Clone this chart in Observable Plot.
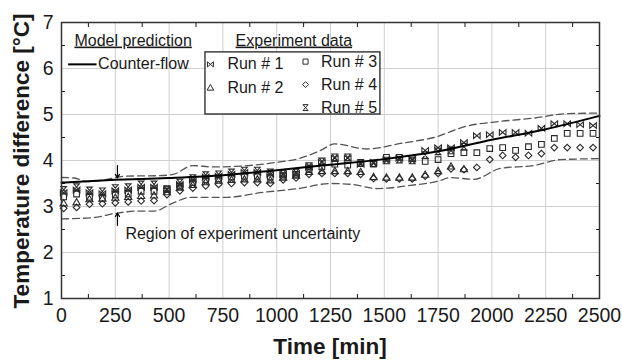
<!DOCTYPE html>
<html><head><meta charset="utf-8">
<script src="https://cdn.jsdelivr.net/npm/d3@7"></script>
<script src="https://cdn.jsdelivr.net/npm/@observablehq/plot@0.6"></script>
<style>
body{margin:0;background:#fff}
svg{font-family:"Liberation Sans",Arial,sans-serif}
</style>
</head><body><div id="chart"></div>
<script>
// ---- data ----
const times = [10,70,130,190,250,310,370,430,490,550,610,670,730,790,850,910,970,1030,1090,1150,1210,1270,1330,1390,1450,1510,1570,1630,1690,1750,1810,1870,1930,1990,2050,2110,2170,2230,2290,2350,2410,2470];
const run1 = [3.30,3.36,3.30,3.28,3.34,3.36,3.42,3.42,3.36,3.48,3.58,3.64,3.66,3.70,3.74,3.74,3.70,
              3.70,3.72,3.86,3.96,4.05,4.05,3.92,3.96,4.02,4.05,4.03,4.22,4.28,4.28,4.39,
              4.54,4.56,4.61,4.61,4.59,4.70,4.80,4.80,4.78,4.76];
const run2 = [3.06,3.08,3.15,3.16,3.18,3.20,3.22,3.23,3.30,3.40,3.46,3.52,3.55,3.57,3.58,3.58,3.56,
              3.62,3.66,3.74,3.76,3.76,3.76,3.74,3.63,3.62,3.62,3.62,3.68,3.76,3.86,3.80];
const run3 = [3.21,3.27,3.20,3.18,3.25,3.27,3.33,3.33,3.38,3.44,3.52,3.58,3.60,3.64,3.66,3.66,3.64,
              3.66,3.70,3.80,3.86,3.92,3.90,3.93,3.92,4.07,4.07,4.04,3.98,4.02,4.15,4.17,
              4.17,4.26,4.28,4.22,4.30,4.35,4.48,4.59,4.59,4.59];
const run4 = [2.96,2.98,3.05,3.06,3.08,3.10,3.12,3.13,3.26,3.34,3.40,3.45,3.48,3.50,3.52,3.52,3.50,
              3.58,3.62,3.70,3.72,3.72,3.72,3.70,3.61,3.60,3.60,3.60,3.66,3.72,3.82,3.80,
              3.85,4.02,4.11,4.07,4.11,4.15,4.28,4.28,4.28,4.28];
const run5 = [3.36,3.42,3.35,3.33,3.40,3.42,3.48,3.48,3.38,3.52,3.62,3.68,3.70,3.74,3.78,3.78,3.74,
              3.72,3.74,3.88,3.98,4.07,4.07,3.95,3.94,4.00,4.02,4.00,4.12,4.20,4.22,4.30];

const modelT = [0,250,500,750,1000,1250,1500,1750,2000,2250,2500];
const modelV = [3.52,3.58,3.62,3.68,3.79,3.91,4.03,4.20,4.45,4.68,4.97];

const upperT = [0,60,120,200,300,450,520,610,700,800,1000,1110,1204,1270,1420,1575,1730,1886,2040,2193,2351,2500];
const upperV = [3.63,3.62,3.54,3.58,3.66,3.67,3.70,3.89,3.86,3.87,3.96,4.05,4.22,4.36,4.25,4.37,4.50,4.75,4.85,4.92,5.02,5.03];
const lowerT = [0,150,250,350,430,520,600,770,925,1100,1250,1350,1468,1622,1750,1808,1916,2040,2193,2320,2500];
const lowerV = [2.73,2.76,2.85,2.90,2.90,3.08,3.20,3.20,3.30,3.39,3.50,3.48,3.39,3.46,3.55,3.63,3.59,3.83,3.89,4.02,4.04];

const xTicks = [0,250,500,750,1000,1250,1500,1750,2000,2250,2500];
const yTicks = [1,2,3,4,5,6,7];
const xMinor = [125,375,625,875,1125,1375,1625,1875,2125,2375];
const yMinor = [1.5,2.5,3.5,4.5,5.5,6.5];
const runLabels = ["Run # 1","Run # 2","Run # 3","Run # 4","Run # 5"];

// ---- symbols ----
const bowtie = {draw(ctx, size){const r=Math.sqrt(size)*0.62; ctx.moveTo(-r,-r*0.85); ctx.lineTo(-r,r*0.85); ctx.lineTo(r,-r*0.85); ctx.lineTo(r,r*0.85); ctx.closePath();}};
const hourglass = {draw(ctx, size){const r=Math.sqrt(size)*0.62; ctx.moveTo(-r*0.85,-r); ctx.lineTo(r*0.85,-r); ctx.lineTo(-r*0.85,r); ctx.lineTo(r*0.85,r); ctx.closePath();}};

const pts = (vals) => vals.map((v,i)=>({t:times[i], v}));
const zipTV = (T,V) => T.map((t,i)=>({t, v:V[i]}));

const ink = "#2a2a2a";
const symR = {bowtie:3.0, hourglass:3.0, triangle:2.7, square:3.2, diamond2:3.0};
const dotOpts = (sym, key) => ({x:"t", y:"v", symbol:sym, r:symR[key], stroke:ink, strokeWidth:1.1, fill:"none"});

// legend placement (data units)
const legendRows = [
  {t:692, tt:771, v:6.09, sym:bowtie, key:"bowtie", label:runLabels[0]},
  {t:692, tt:771, v:5.57, sym:"triangle", key:"triangle", label:runLabels[1]},
  {t:1134, tt:1206, v:6.15, sym:"square", key:"square", label:runLabels[2]},
  {t:1134, tt:1206, v:5.65, sym:"diamond2", key:"diamond2", label:runLabels[3]},
  {t:1134, tt:1206, v:5.15, sym:hourglass, key:"hourglass", label:runLabels[4]}
];

const marks = [
  Plot.gridX(xTicks, {stroke:"#d0d0d0", strokeOpacity:1}),
  Plot.gridY(yTicks, {stroke:"#d0d0d0", strokeOpacity:1}),
  Plot.axisX(xTicks, {tickSize:0, tickPadding:10, fontSize:19.5, tickFormat:d3.format("d"), label:null}),
  Plot.axisY(yTicks, {tickSize:0, tickPadding:8, fontSize:19.5, tickFormat:d3.format("d"), label:null}),
  Plot.axisX(xMinor, {anchor:"bottom", tickSize:-4, text:null, label:null}),
  Plot.axisX(xMinor, {anchor:"top", tickSize:-4, text:null, label:null}),
  Plot.axisY(yMinor, {anchor:"left", tickSize:-4, text:null, label:null}),
  Plot.axisY(yMinor, {anchor:"right", tickSize:-4, text:null, label:null}),
  Plot.line(zipTV(upperT,upperV), {x:"t", y:"v", stroke:"#555", strokeWidth:1.3, strokeDasharray:"7,4", curve:"monotone-x"}),
  Plot.line(zipTV(lowerT,lowerV), {x:"t", y:"v", stroke:"#555", strokeWidth:1.3, strokeDasharray:"7,4", curve:"monotone-x"}),
  Plot.dot(pts(run4), dotOpts("diamond2","diamond2")),
  Plot.dot(pts(run2), dotOpts("triangle","triangle")),
  Plot.dot(pts(run3), dotOpts("square","square")),
  Plot.dot(pts(run5), dotOpts(hourglass,"hourglass")),
  Plot.dot(pts(run1), dotOpts(bowtie,"bowtie")),
  Plot.line(zipTV(modelT,modelV), {x:"t", y:"v", stroke:"#000", strokeWidth:2, curve:"monotone-x"}),
  // arrows to the uncertainty band
  Plot.arrow([{t:260, v1:3.89, v2:3.62}], {x1:"t", x2:"t", y1:"v1", y2:"v2", stroke:"#000", strokeWidth:1.2, headLength:6}),
  Plot.arrow([{t:260, v1:2.59, v2:2.86}], {x1:"t", x2:"t", y1:"v1", y2:"v2", stroke:"#000", strokeWidth:1.2, headLength:6}),
  Plot.text(["Region of experiment uncertainty"], {x:297, y:2.41, text:d=>d, textAnchor:"start", fontSize:16, fill:"#1a1a1a"}),
  // annotation headers
  Plot.text(["Model prediction"], {x:60, y:6.61, text:d=>d, textAnchor:"start", fontSize:16, fill:"#1a1a1a"}),
  Plot.text(["Experiment data"], {x:809, y:6.61, text:d=>d, textAnchor:"start", fontSize:16, fill:"#1a1a1a"}),
  Plot.ruleY([6.09], {x1:33, x2:165, stroke:"#000", strokeWidth:2}),
  Plot.text(["Counter-flow"], {x:170, y:6.09, text:d=>d, textAnchor:"start", fontSize:16, fill:"#1a1a1a"}),
  // legend box
  Plot.rect([{x1:669, x2:1482, y1:5.0, y2:6.35}], {x1:"x1", x2:"x2", y1:"y1", y2:"y2", fill:"#fff", stroke:"#222", strokeWidth:1.3}),
  ...legendRows.map(r => Plot.dot([r], {x:"t", y:"v", symbol:r.sym, r:symR[r.key]*0.9, stroke:ink, strokeWidth:1, fill:"none"})),
  Plot.text(legendRows, {x:"tt", y:"v", text:"label", textAnchor:"start", fontSize:16, fill:"#1a1a1a"}),
  Plot.frame({stroke:"#333", strokeWidth:1.5})
];

const chart = Plot.plot({
  width:622, height:363,
  marginLeft:61, marginRight:23, marginTop:22, marginBottom:65,
  x:{domain:[0,2500]},
  y:{domain:[1,7]},
  style:{fontFamily:'"Liberation Sans", Arial, sans-serif', color:"#1a1a1a", background:"#fff"},
  marks
});

const svg = d3.select(chart);
svg.selectAll("text").filter(function(){const s=this.textContent; return s==="Model prediction"||s==="Experiment data";})
   .style("text-decoration","underline");
svg.append("text").attr("transform","translate(23,161) rotate(-90)")
   .attr("text-anchor","middle").attr("dominant-baseline","middle")
   .style("font-weight","bold").style("font-size","22.5px").attr("fill","#1a1a1a")
   .text("Temperature difference [°C]");
svg.append("text").attr("x",330).attr("y",354)
   .attr("text-anchor","middle")
   .style("font-weight","bold").style("font-size","22.5px").attr("fill","#1a1a1a")
   .text("Time [min]");

document.getElementById("chart").appendChild(chart);
</script>
</body></html>
